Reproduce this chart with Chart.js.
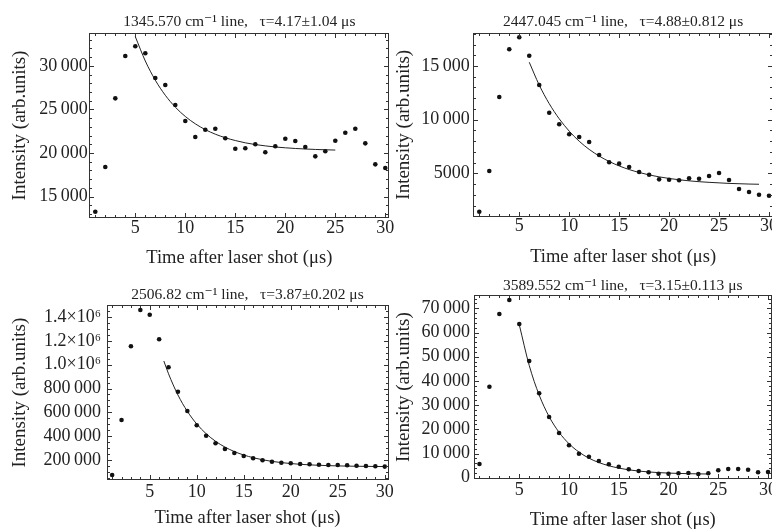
<!DOCTYPE html>
<html>
<head>
<meta charset="utf-8">
<script src="https://cdn.jsdelivr.net/npm/chart.js@4.4.1/dist/chart.umd.min.js"></script>
<style>
  html, body { margin:0; padding:0; background:#fff; width:772px; height:532px; overflow:hidden; }
  canvas { position:absolute; }
</style>
</head>
<body>
<canvas id="c1" width="400" height="270" style="left:0;top:0"></canvas>
<canvas id="c2" width="400" height="270" style="left:386px;top:0"></canvas>
<canvas id="c3" width="400" height="266" style="left:0;top:266px"></canvas>
<canvas id="c4" width="400" height="266" style="left:386px;top:266px"></canvas>
<script>
  // === Datos ===
  const TIME = [1,2,3,4,5,6,7,8,9,10,11,12,13,14,15,16,17,18,19,20,21,22,23,24,25,26,27,28,29,30];
  const X_TICKS = [5,10,15,20,25,30];

  // 1345.570 cm-1
  const INT_1345 = [13270,18390,26270,31130,32240,31440,28600,27800,25510,23670,21840,22670,22790,21690,20490,20540,21000,20080,20770,21640,21380,20690,19620,20200,21410,22330,22790,21110,18700,18280];
  const FIT_1345_T = [5,6,7,8,9,10,11,12,13,14,15,16,17,18,19,20,21,22,23,24,25];
  const FIT_1345 = [33340,30550,28350,26620,25260,24190,23350,22680,22160,21750,21430,21170,20970,20820,20690,20600,20520,20460,20410,20370,20340];
  const Y_TICKS_1345 = [15000,20000,25000,30000];
  const Y_LABELS_1345 = ['15\u2009000','20\u2009000','25\u2009000','30\u2009000'];

  // 2447.045 cm-1
  const INT_2447 = [1420,5210,12110,16560,17680,15960,13230,10650,9570,8640,8380,7920,6710,6030,5900,5590,5120,4870,4440,4400,4350,4530,4500,4750,5030,4380,3540,3260,3010,2910];
  const FIT_2447_T = [6,7,8,9,10,11,12,13,14,15,16,17,18,19,20,21,22,23,24,25,26,27,28,29];
  const FIT_2447 = [15350,13220,11490,10080,8930,7990,7230,6610,6100,5690,5350,5080,4850,4670,4520,4400,4300,4220,4160,4110,4060,4030,4000,3980];
  const Y_TICKS_2447 = [5000,10000,15000];
  const Y_LABELS_2447 = ['5000','10\u2009000','15\u2009000'];

  // 2506.82 cm-1
  const INT_2506 = [74100,535700,1154200,1458800,1419400,1212900,978000,773200,611200,491200,403900,340100,292300,258700,233600,214300,197500,185700,177300,172300,166400,163900,160600,158000,158000,155500,152200,149600,147100,144400];
  const FIT_2506_T = [6.5,7,8,9,10,11,12,13,14,15,16,17,18,19,20,21,22,23,24,25,26,27,28,29,30];
  const FIT_2506 = [1030800,923200,745600,608400,502400,420500,357300,308500,270800,241700,219300,201900,188500,178200,170200,164000,159200,155500,152700,150500,148800,147400,146500,145700,145000];
  const Y_TICKS_2506 = [200000,400000,600000,800000,1000000,1200000,1400000];
  const Y_LABELS_2506 = ['200\u2009000','400\u2009000','600\u2009000','800\u2009000','1.0\u00d710\u2076','1.2\u00d710\u2076','1.4\u00d710\u2076'];

  // 3589.552 cm-1
  const INT_3589 = [5660,37600,67640,73430,63510,48220,34870,25080,18470,13390,9920,8680,6900,5540,4550,3470,2770,2230,1650,1650,1820,1940,1530,1820,3060,3590,3590,3310,2230,2360];
  const FIT_3589_T = [5,6,7,8,9,10,11,12,13,14,15,16,17,18,19,20,21,22,23,24];
  const FIT_3589 = [63220,46400,34160,25240,18760,14030,10590,8080,6260,4940,3970,3260,2750,2380,2110,1910,1770,1660,1580,1530];
  const Y_TICKS_3589 = [0,10000,20000,30000,40000,50000,60000,70000];
  const Y_LABELS_3589 = ['0','10\u2009000','20\u2009000','30\u2009000','40\u2009000','50\u2009000','60\u2009000','70\u2009000'];

  const TITLE_1345 = '1345.570 cm\u207b\u00b9 line,   \u03c4=4.17\u00b11.04 \u03bcs';
  const TITLE_2447 = '2447.045 cm\u207b\u00b9 line,   \u03c4=4.88\u00b10.812 \u03bcs';
  const TITLE_2506 = '2506.82 cm\u207b\u00b9 line,   \u03c4=3.87\u00b10.202 \u03bcs';
  const TITLE_3589 = '3589.552 cm\u207b\u00b9 line,   \u03c4=3.15\u00b10.113 \u03bcs';
  const X_TITLE = 'Time after laser shot (\u03bcs)';
  const Y_TITLE = 'Intensity (arb.units)';

  // === Estilo ===
  const FONT = '"Liberation Serif", "DejaVu Serif", serif';
  const INK = '#222';
  Chart.defaults.font.family = FONT;
  Chart.defaults.color = INK;
  Chart.defaults.animation = false;

  // marco tipo Mathematica con marcas hacia dentro en los 4 lados
  const framePlugin = {
    id: 'frame',
    afterDatasetsDraw(chart, args, o){
      const {ctx, chartArea:a, scales:{x, y}} = chart;
      const L = Math.round(a.left)+0.5, R = Math.round(a.right)-0.5;
      const T = Math.round(a.top)+0.5,  B = Math.round(a.bottom)-0.5;
      ctx.save();
      ctx.strokeStyle = '#333';
      ctx.lineWidth = 1;
      ctx.strokeRect(L, T, R-L, B-T);
      ctx.beginPath();
      const tickX = (v, len)=>{
        const px = Math.round(x.getPixelForValue(v))+0.5;
        if(px < L || px > R) return;
        ctx.moveTo(px, B); ctx.lineTo(px, B-len);
        ctx.moveTo(px, T); ctx.lineTo(px, T+len);
      };
      const tickY = (v, len)=>{
        const py = Math.round(y.getPixelForValue(v))+0.5;
        if(py < T || py > B) return;
        ctx.moveTo(L, py); ctx.lineTo(L+len, py);
        ctx.moveTo(R, py); ctx.lineTo(R-len, py);
      };
      for(let v = Math.ceil(x.min); v <= x.max; v += o.xMinor) tickX(v, 2.5);
      o.xMajor.forEach(v => tickX(v, 4.5));
      const y0 = Math.ceil(y.min / o.yMinor) * o.yMinor;
      for(let v = y0; v <= y.max; v += o.yMinor) tickY(v, 2.5);
      o.yMajor.forEach(v => tickY(v, 4.5));
      ctx.stroke();
      ctx.restore();
    }
  };

  function makePanel(id, p){
    const pts = TIME.map((t,i)=>({x:t, y:p.values[i]}));
    const fit = p.fitT.map((t,i)=>({x:t, y:p.fit[i]}));
    return new Chart(document.getElementById(id), {
      type: 'scatter',
      data: {
        datasets: [
          { data: pts, showLine:false, pointRadius:2.3, pointBackgroundColor:'#111', pointBorderWidth:0, pointHoverRadius:2.3 },
          { data: fit, showLine:true, pointRadius:0, borderColor:'#222', borderWidth:1, cubicInterpolationMode:'monotone', fill:false }
        ]
      },
      options: {
        responsive:false,
        devicePixelRatio:1,
        events:[],
        layout:{ padding:{ left:0, top:0, bottom:0, right:p.padRight } },
        plugins:{
          legend:{ display:false },
          tooltip:{ enabled:false },
          title:{
            display:true, text:p.title, fullSize:false,
            color:INK, font:{ size:15.5, weight:'normal', lineHeight:1.2 },
            padding:{ top:p.titleTop, bottom:p.titleBottom }
          },
          frame:{ xMajor:X_TICKS, xMinor:1, yMajor:p.yTicks, yMinor:p.yMinor }
        },
        scales:{
          x:{
            type:'linear', min:0.4, max:30.4,
            grid:{ display:false, drawTicks:false }, border:{ display:false },
            afterBuildTicks:(s)=>{ s.ticks = X_TICKS.map(v=>({value:v})); },
            afterFit:(s)=>{ s.height = p.xHeight; },
            ticks:{ padding:p.xTickPad, maxRotation:0, autoSkip:false, font:{ size:18, lineHeight:1 }, callback:(v)=>String(v) },
            title:{ display:true, text:X_TITLE, font:{ size:18.5, lineHeight:1.2 }, padding:{ top:0, bottom:p.xTitlePad } }
          },
          y:{
            type:'linear', min:p.yMin, max:p.yMax,
            grid:{ display:false, drawTicks:false }, border:{ display:false },
            afterBuildTicks:(s)=>{ s.ticks = p.yTicks.map(v=>({value:v})); },
            afterFit:(s)=>{ s.width = p.yWidth; },
            ticks:{ padding:p.yTickPad, autoSkip:false, font:{ size:18, lineHeight:1 },
              callback:(v)=>{ const i = p.yTicks.indexOf(v); return i >= 0 ? p.yLabels[i] : ''; } },
            title:{ display:true, text:Y_TITLE, font:{ size:19, lineHeight:1.2 }, padding:{ top:p.yTitlePad, bottom:0 } }
          }
        }
      },
      plugins:[framePlugin]
    });
  }

  makePanel('c1', {
    title:TITLE_1345, values:INT_1345, fitT:FIT_1345_T, fit:FIT_1345,
    yMin:12550, yMax:33760, yTicks:Y_TICKS_1345, yLabels:Y_LABELS_1345, yMinor:1000,
    padRight:10.7, yWidth:89.3, xHeight:52, titleTop:12.4, titleBottom:2.0,
    yTitlePad:8.5, xTitlePad:0.4, xTickPad:1, yTickPad:1.5
  });
  makePanel('c2', {
    title:TITLE_2447, values:INT_2447, fitT:FIT_2447_T, fit:FIT_2447,
    yMin:930, yMax:18120, yTicks:Y_TICKS_2447, yLabels:Y_LABELS_2447, yMinor:1000,
    padRight:13, yWidth:87.3, xHeight:53, titleTop:12.4, titleBottom:1.5,
    yTitlePad:6.8, xTitlePad:1.7, xTickPad:0.2, yTickPad:3.5
  });
  makePanel('c3', {
    title:TITLE_2506, values:INT_2506, fitT:FIT_2506_T, fit:FIT_2506,
    yMin:29600, yMax:1500800, yTicks:Y_TICKS_2506, yLabels:Y_LABELS_2506, yMinor:50000,
    padRight:11.5, yWidth:106.5, xHeight:51.7, titleTop:19.7, titleBottom:0.7,
    yTitlePad:8.5, xTitlePad:3.0, xTickPad:2.5, yTickPad:5.5
  });
  makePanel('c4', {
    title:TITLE_3589, values:INT_3589, fitT:FIT_3589_T, fit:FIT_3589,
    yMin:-660, yMax:75500, yTicks:Y_TICKS_3589, yLabels:Y_LABELS_3589, yMinor:2000,
    padRight:14, yWidth:87.5, xHeight:52.7, titleTop:10.2, titleBottom:0.2,
    yTitlePad:6.8, xTitlePad:0.7, xTickPad:1.9, yTickPad:3.5
  });
</script>
</body>
</html>
